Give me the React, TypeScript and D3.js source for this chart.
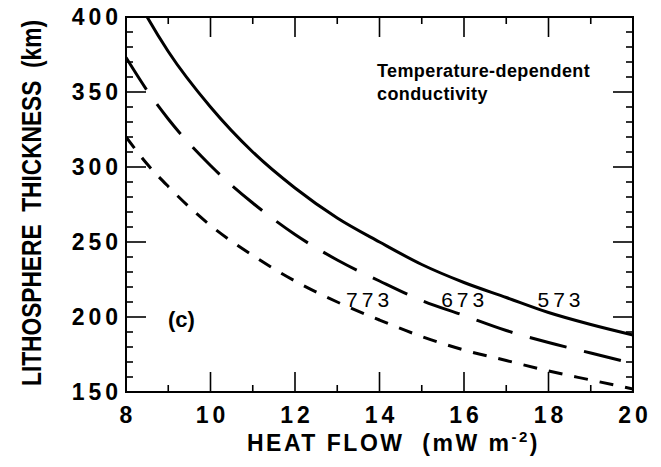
import React, { useLayoutEffect, useRef, useState } from 'react';
import * as d3 from 'd3';

const heatFlow = [8, 8.5, 9, 10, 11, 12, 13, 14, 15, 16, 17, 18, 19, 20];
const thickness573 = [426, 400, 377, 340, 310, 286, 266, 250, 235, 223, 213, 203, 195, 188];
const thickness673 = [373, 351, 332, 301, 276, 255, 238, 224, 211, 201, 191, 183, 176, 169];
const thickness773 = [320, 302, 287, 261, 241, 224, 210, 198, 187, 178, 171, 164, 158, 152];
const xMajorTicks = [8, 10, 12, 14, 16, 18, 20];
const yMajorTicks = [150, 200, 250, 300, 350, 400];
const curveLabels = ['773', '673', '573'];
const curveLabelHeat = [13.21, 15.46, 17.74];
const curveLabelThick = 207;

const W = 661;
const H = 467;
const M = { left: 126, right: 633, top: 17, bottom: 392 };
const FONT = "'Liberation Sans', Arial, Helvetica, sans-serif";

function FitText(props: { transform: string; target: number; fontSize: number; children: React.ReactNode }) {
  const ref = useRef<SVGTextElement>(null);
  const [sx, setSx] = useState(0.84);
  useLayoutEffect(() => {
    if (ref.current) {
      const len = ref.current.getComputedTextLength();
      if (len > 0) setSx(props.target / len);
    }
  }, [props.target]);
  return (
    <g transform={props.transform}>
      <text
        ref={ref}
        transform={`scale(${sx},1)`}
        textAnchor="middle"
        fontSize={props.fontSize}
        fontWeight="bold"
        style={{ whiteSpace: 'pre' }}
      >
        {props.children}
      </text>
    </g>
  );
}

export default function App() {
  const x = d3.scaleLinear().domain([8, 20]).range([M.left, M.right]);
  const y = d3.scaleLinear().domain([150, 400]).range([M.bottom, M.top]);
  const xMinor = d3.range(8, 20.01, 1).filter((v) => !xMajorTicks.includes(v));
  const yMinor = d3.range(150, 400.1, 10).filter((v) => !yMajorTicks.includes(v));

  const line = d3
    .line<[number, number]>()
    .x((d) => x(d[0]))
    .y((d) => y(d[1]))
    .curve(d3.curveMonotoneX);

  const series = [
    { vals: thickness573, dash: undefined as string | undefined },
    { vals: thickness673, dash: '38 18' },
    { vals: thickness773, dash: '14 12' },
  ];

  const MAJ = 20;
  const MIN = 7;

  return (
    <svg
      width={W}
      height={H}
      style={{ position: 'absolute', left: 0, top: 0, background: '#fff' }}
      fontFamily={FONT}
    >
      <defs>
        <clipPath id="plotClip">
          <rect x={M.left} y={M.top} width={M.right - M.left} height={M.bottom - M.top} />
        </clipPath>
      </defs>
      <rect x={0} y={0} width={W} height={H} fill="#fff" />

      <g clipPath="url(#plotClip)">
        {series.map((s, i) => (
          <path
            key={i}
            d={line(heatFlow.map((h, j) => [h, s.vals[j]] as [number, number])) || ''}
            fill="none"
            stroke="#000"
            strokeWidth={3}
            strokeDasharray={s.dash}
          />
        ))}
      </g>

      <rect
        x={M.left}
        y={M.top}
        width={M.right - M.left}
        height={M.bottom - M.top}
        fill="none"
        stroke="#000"
        strokeWidth={2}
      />

      {xMajorTicks.map((t) => (
        <g key={'xM' + t}>
          <line x1={x(t)} x2={x(t)} y1={M.bottom} y2={M.bottom - MAJ} stroke="#000" strokeWidth={1.6} />
          <line x1={x(t)} x2={x(t)} y1={M.top} y2={M.top + MAJ} stroke="#000" strokeWidth={1.6} />
        </g>
      ))}
      {xMinor.map((t) => (
        <g key={'xm' + t}>
          <line x1={x(t)} x2={x(t)} y1={M.bottom} y2={M.bottom - MIN} stroke="#000" strokeWidth={1.6} />
          <line x1={x(t)} x2={x(t)} y1={M.top} y2={M.top + MIN} stroke="#000" strokeWidth={1.6} />
        </g>
      ))}
      {yMajorTicks.map((t) => (
        <g key={'yM' + t}>
          <line x1={M.left} x2={M.left + MAJ} y1={y(t)} y2={y(t)} stroke="#000" strokeWidth={1.6} />
          <line x1={M.right} x2={M.right - MAJ} y1={y(t)} y2={y(t)} stroke="#000" strokeWidth={1.6} />
        </g>
      ))}
      {yMinor.map((t) => (
        <g key={'ym' + t}>
          <line x1={M.left} x2={M.left + MIN} y1={y(t)} y2={y(t)} stroke="#000" strokeWidth={1.6} />
          <line x1={M.right} x2={M.right - MIN} y1={y(t)} y2={y(t)} stroke="#000" strokeWidth={1.6} />
        </g>
      ))}

      {xMajorTicks.map((t) => (
        <text
          key={'xl' + t}
          x={x(t) + 2}
          y={423}
          textAnchor="middle"
          fontSize={23}
          fontWeight="bold"
          style={{ letterSpacing: '4px' }}
        >
          {t}
        </text>
      ))}
      {yMajorTicks.map((t) => (
        <text
          key={'yl' + t}
          x={118 + 4}
          y={y(t) + 8.3}
          textAnchor="end"
          fontSize={23}
          fontWeight="bold"
          style={{ letterSpacing: '4px' }}
        >
          {t}
        </text>
      ))}

      <FitText transform="translate(41, 203) rotate(-90)" target={366} fontSize={27}>
        {'LITHOSPHERE  THICKNESS  (km)'}
      </FitText>

      <text
        x={247}
        y={451}
        textAnchor="start"
        fontSize={23}
        fontWeight="bold"
        style={{ whiteSpace: 'pre', letterSpacing: '2.5px' }}
      >
        <tspan>{'HEAT FLOW  (mW m'}</tspan>
        <tspan fontSize={15} dy={-9}>{'-2'}</tspan>
        <tspan dy={9}>{')'}</tspan>
      </text>

      <text x={377} y={77} fontSize={18} fontWeight="bold" style={{ letterSpacing: '0.4px' }}>
        Temperature-dependent
      </text>
      <text x={377} y={100} fontSize={18} fontWeight="bold" style={{ letterSpacing: '0.4px' }}>
        conductivity
      </text>
      <text x={168} y={327} fontSize={22} fontWeight="bold">
        (c)
      </text>

      {curveLabels.map((lab, i) => (
        <text
          key={lab}
          x={x(curveLabelHeat[i])}
          y={y(curveLabelThick)}
          fontSize={21}
          style={{ letterSpacing: '4px' }}
        >
          {lab}
        </text>
      ))}
    </svg>
  );
}
